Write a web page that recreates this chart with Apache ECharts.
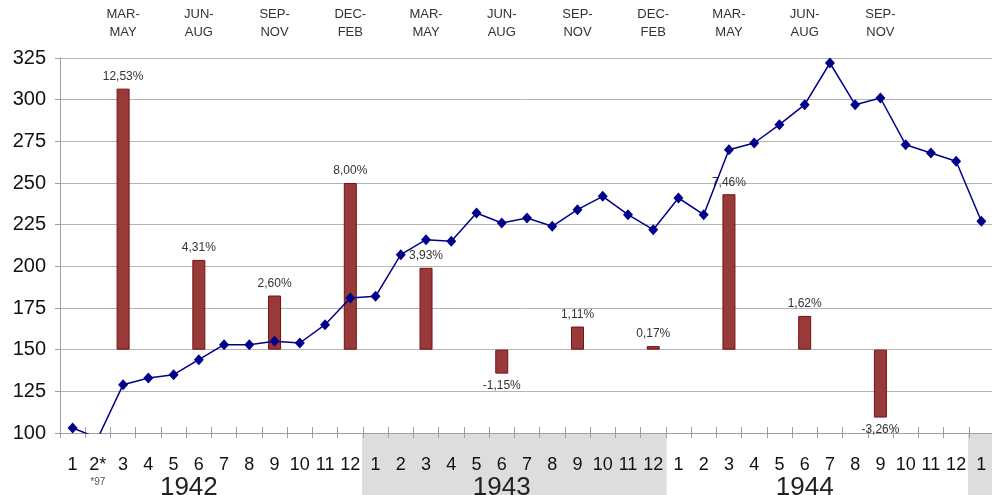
<!DOCTYPE html>
<html>
<head>
<meta charset="utf-8">
<title>Index 1942-1945</title>
<script src="https://cdn.jsdelivr.net/npm/echarts@6/dist/echarts.min.js"></script>
<style>
  html, body { margin: 0; padding: 0; background: #fff; }
  .line1 .chart { width: 992px; height: 495px; }
</style>
</head>
<body>
<div class="line1"><div class="chart"></div></div>
<script>
// monthly index values, one array per year
var years = ["1942", "1943", "1944", "1945"];
var index1942 = [103, 97, 129, 133, 135, 144, 153, 153, 155, 154, 165, 181];
var index1943 = [182, 207, 216, 215, 232, 226, 229, 224, 234, 242, 231, 222];
var index1944 = [241, 231, 270, 274, 285, 297, 322, 297, 301, 273, 268, 263];
var index1945 = [227];

// quarterly change in %, drawn at months 3, 6, 9, 12
var seasonNames = ["MAR-\nMAY", "JUN-\nAUG", "SEP-\nNOV", "DEC-\nFEB"];
var seasonMonths = [3, 6, 9, 12];
var seasonChange = [12.53, 4.31, 2.6, 8.0, 3.93, -1.15, 1.11, 0.17, 7.46, 1.62, -3.26];

// y axis
var yMin = 100;
var yMax = 325;
var yStep = 25;

// shaded year bands under the axis
var shadedYears = ["1943", "1945"];

// bars start from 150, 1% = 12.5 points
var barBase = 150;
var barScale = 12.5;

(function () {
  var myChart = echarts.init(document.querySelector(".line1 .chart"));

  var yearValues = [index1942, index1943, index1944, index1945];
  var cats = [];
  var lineData = [];
  years.forEach(function (y, i) {
    yearValues[i].forEach(function (v, m) {
      cats.push({ year: y, month: m + 1 });
      lineData.push(v);
    });
  });
  var catKeys = cats.map(function (c) { return c.year + "-" + c.month; });

  // put the quarterly changes on their months
  var pct = [];
  var seasonLabel = [];
  var k = 0;
  cats.forEach(function (c) {
    var s = seasonMonths.indexOf(c.month);
    if (s >= 0 && k < seasonChange.length) {
      pct.push(seasonChange[k]);
      seasonLabel.push(seasonNames[s]);
      k++;
    } else {
      pct.push(null);
      seasonLabel.push("");
    }
  });

  var baseData = pct.map(function (p) {
    if (p === null) return "-";
    return p >= 0 ? barBase : barBase + p * barScale;
  });
  var changeData = pct.map(function (p) {
    if (p === null) return "-";
    return {
      value: Math.abs(p) * barScale,
      pct: p,
      label: { position: p < 0 ? "bottom" : "top" }
    };
  });
  var shadeData = cats.map(function (c) {
    return shadedYears.indexOf(c.year) >= 0 ? 1 : "-";
  });

  var font = "Liberation Sans, Arial, sans-serif";

  var option = {
    animation: false,
    grid: [
      { left: 60, right: -2, top: 58, bottom: 62, outerBoundsMode: "none" },
      { left: 60, right: -2, top: 433, bottom: 0, outerBoundsMode: "none" }
    ],
    xAxis: [
      {
        // months
        type: "category",
        gridIndex: 0,
        position: "bottom",
        data: catKeys,
        axisLine: { lineStyle: { color: "#a0a0a0" } },
        axisTick: { show: true, length: 5, interval: 0, lineStyle: { color: "#a0a0a0" } },
        axisLabel: {
          interval: 0,
          margin: 23,
          color: "#111",
          fontFamily: font,
          fontSize: 18,
          formatter: function (v, i) {
            // value off the scale gets a footnote
            if (lineData[i] < yMin) {
              return cats[i].month + "*\n{s|*" + lineData[i] + "}";
            }
            return String(cats[i].month);
          },
          rich: {
            s: { fontSize: 10, color: "#555", fontFamily: font, lineHeight: 14, padding: [2, 0, 0, 0] }
          }
        },
        splitLine: { show: false }
      },
      {
        // years
        type: "category",
        gridIndex: 0,
        position: "bottom",
        data: catKeys,
        axisLine: { show: false },
        axisTick: { show: true, inside: true, length: 6, interval: 0, lineStyle: { color: "#a0a0a0" } },
        axisLabel: {
          interval: 0,
          margin: 42,
          color: "#222",
          fontFamily: font,
          fontSize: 26,
          formatter: function (v, i) {
            if (cats[i].month !== 6) return "";
            if (cats[i].year === years[0]) return "{first|" + cats[i].year + "}";
            return cats[i].year;
          },
          rich: {
            first: { fontSize: 26, color: "#222", fontFamily: font, padding: [0, 20, 0, 0] }
          }
        }
      },
      {
        // season names on top
        type: "category",
        gridIndex: 0,
        position: "top",
        data: catKeys,
        axisLine: { show: false },
        axisTick: { show: false },
        axisLabel: {
          interval: 0,
          margin: 17,
          color: "#333",
          fontFamily: font,
          fontSize: 13,
          lineHeight: 18,
          formatter: function (v, i) {
            return seasonLabel[i];
          }
        }
      },
      {
        type: "category",
        gridIndex: 1,
        data: catKeys,
        show: false
      }
    ],
    yAxis: [
      {
        type: "value",
        gridIndex: 0,
        min: yMin,
        max: yMax,
        interval: yStep,
        axisLine: { show: true, lineStyle: { color: "#a0a0a0" } },
        axisTick: { show: true, length: 5, lineStyle: { color: "#a0a0a0" } },
        axisLabel: { color: "#111", fontFamily: font, fontSize: 20, margin: 14 },
        splitLine: { lineStyle: { color: "#b4b4b4" } }
      },
      {
        type: "value",
        gridIndex: 1,
        min: 0,
        max: 1,
        show: false
      }
    ],
    series: [
      {
        // gray band, slightly wider than a month so no seams show
        name: "shade",
        type: "bar",
        xAxisIndex: 3,
        yAxisIndex: 1,
        data: shadeData,
        barWidth: "106%",
        silent: true,
        z: -1,
        itemStyle: { color: "#dddddd" }
      },
      {
        name: "base",
        type: "bar",
        stack: "q",
        xAxisIndex: 0,
        yAxisIndex: 0,
        data: baseData,
        barWidth: 13,
        silent: true,
        itemStyle: { color: "transparent" }
      },
      {
        name: "change",
        type: "bar",
        stack: "q",
        xAxisIndex: 0,
        yAxisIndex: 0,
        data: changeData,
        barWidth: 13,
        itemStyle: {
          color: "#983a3a",
          borderColor: "#7a1010",
          borderWidth: 1
        },
        label: {
          show: true,
          distance: 6,
          color: "#333",
          fontFamily: font,
          fontSize: 12,
          formatter: function (p) {
            return p.data.pct.toFixed(2).replace(".", ",") + "%";
          }
        }
      },
      {
        name: "index",
        type: "line",
        xAxisIndex: 0,
        yAxisIndex: 0,
        data: lineData,
        z: 5,
        symbol: "diamond",
        symbolSize: [10, 11],
        lineStyle: { color: "#00008b", width: 1.5 },
        itemStyle: { color: "#00008b" }
      }
    ]
  };

  myChart.setOption(option);
  window.addEventListener("resize", function () {
    myChart.resize();
  });
})();
</script>
</body>
</html>
